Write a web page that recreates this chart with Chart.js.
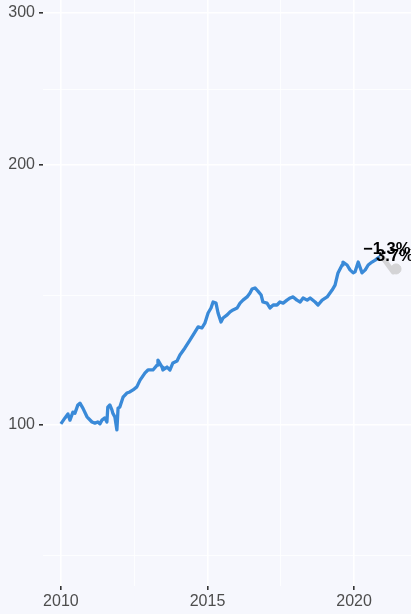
<!DOCTYPE html>
<html><head><meta charset="utf-8">
<script src="https://cdn.jsdelivr.net/npm/chart.js@4/dist/chart.umd.min.js"></script>
<style>html,body{margin:0;padding:0;background:#f6f7fd;overflow:hidden}#wrap{width:411px;height:614px;position:relative}</style>
</head><body><div id="wrap"><canvas id="c" width="411" height="614"></canvas></div>
<script>
const years=[2010.00,2010.14,2010.24,2010.31,2010.41,2010.48,2010.58,2010.65,2010.75,2010.89,2011.06,2011.16,2011.26,2011.33,2011.40,2011.50,2011.57,2011.60,2011.67,2011.74,2011.77,2011.84,2011.91,2011.95,2012.01,2012.12,2012.25,2012.35,2012.46,2012.59,2012.70,2012.87,2012.97,2013.14,2013.28,2013.31,2013.45,2013.48,2013.62,2013.72,2013.82,2013.96,2014.06,2014.23,2014.40,2014.57,2014.68,2014.81,2014.91,2015.02,2015.12,2015.19,2015.29,2015.36,2015.46,2015.53,2015.67,2015.77,2015.87,2016.01,2016.11,2016.21,2016.35,2016.45,2016.52,2016.62,2016.72,2016.83,2016.89,2017.03,2017.13,2017.24,2017.37,2017.47,2017.58,2017.71,2017.82,2017.92,2018.05,2018.16,2018.26,2018.40,2018.50,2018.67,2018.77,2018.91,2019.08,2019.25,2019.35,2019.45,2019.59,2019.62,2019.76,2019.86,2019.97,2020.03,2020.14,2020.20,2020.27,2020.38,2020.48,2020.61,2020.72,2020.82,2020.96];
const values=[100.3,101.9,103.0,101.3,103.5,103.2,105.5,106.0,104.6,102.2,100.8,100.5,100.8,100.3,101.3,101.9,100.8,104.9,105.5,104.1,103.2,102.2,98.7,104.6,104.9,107.7,108.9,109.2,109.8,110.7,112.7,114.9,115.8,115.8,117.3,118.9,116.7,115.8,116.7,115.8,118.0,118.6,120.5,122.8,125.4,128.1,129.9,129.5,131.2,134.8,136.6,138.8,138.4,134.8,131.6,133.0,134.1,135.2,135.9,136.6,138.4,139.5,140.7,142.2,143.7,144.1,142.9,141.4,138.8,138.4,136.6,137.7,137.7,138.8,138.4,139.5,140.3,140.7,139.5,138.8,140.3,139.5,140.3,138.8,137.7,139.5,140.7,143.3,145.2,150.0,153.2,154.4,153.2,151.2,150.0,150.4,154.4,152.4,150.0,151.2,153.2,154.4,155.2,156.1,157.3];
const refYears=[2020.96,2021.33];
const refValues=[156.5,150.4];
const dotYears=[2021.43];
const dotValues=[151.6];
const yMajorTicks=[100,200,300];
const yMinorTicks=[70.7,141.4,244.9];
const xMajorTicks=[2010,2015,2020];
const xMinorTicks=[2012.5,2017.5];
const labelTexts=['\u22121.3%','3.7%'];
const labelYears=[2020.31,2020.75];
const labelValues=[157.8,154.8];

const BG='#f6f7fd';
const FONT='"Liberation Sans", Arial, sans-serif';

const bgPlugin={id:'bg',beforeDraw(chart){const c=chart.ctx;c.save();c.fillStyle=BG;c.fillRect(0,0,chart.width,chart.height);c.restore();}};
const labelPlugin={id:'lbls',afterDatasetsDraw(chart){
  const c=chart.ctx,xs=chart.scales.x,ys=chart.scales.y;
  c.save();c.font='bold 16.5px '+FONT;c.fillStyle='#000';c.textAlign='left';c.textBaseline='alphabetic';
  labelTexts.forEach((t,i)=>c.fillText(t,xs.getPixelForValue(labelYears[i]),ys.getPixelForValue(labelValues[i])));
  c.restore();}};

const isMajorX=v=>xMajorTicks.includes(v);
const isMajorY=v=>yMajorTicks.includes(v);
const noPad=s=>{s.paddingTop=0;s.paddingBottom=0;s.paddingLeft=0;s.paddingRight=0;};

new Chart(document.getElementById('c'),{
  type:'line',
  data:{datasets:[
    {data:refYears.map((x,i)=>({x,y:refValues[i]})),borderColor:'#d4d4d6',borderWidth:5,pointRadius:0,tension:0,borderCapStyle:'round'},
    {data:dotYears.map((x,i)=>({x,y:dotValues[i]})),borderColor:'#d4d4d6',backgroundColor:'#d4d4d6',pointRadius:5,showLine:false},
    {data:years.map((x,i)=>({x,y:values[i]})),borderColor:'#3a8ad8',borderWidth:3.3,pointRadius:0,tension:0,borderJoinStyle:'round'}
  ]},
  options:{
    responsive:false,animation:false,devicePixelRatio:1,
    layout:{padding:0,autoPadding:false},
    plugins:{legend:{display:false},tooltip:{enabled:false}},
    scales:{
      x:{type:'linear',min:2009.39,max:2021.94,
        afterBuildTicks:a=>{a.ticks=[...xMajorTicks,...xMinorTicks].sort((p,q)=>p-q).map(v=>({value:v}));},
        afterFit:s=>{s.height=28;noPad(s);},
        border:{display:false},
        grid:{color:'#ffffff',lineWidth:c=>isMajorX(c.tick.value)?1.6:0.8,drawTicks:true,tickLength:4,
          tickColor:c=>isMajorX(c.tick.value)?'#333333':'rgba(0,0,0,0)',tickWidth:1.6},
        ticks:{autoSkip:false,maxRotation:0,padding:2,color:'#4d4d4d',font:{family:FONT,size:16},
          callback:v=>isMajorX(v)?String(v):''}
      },
      y:{type:'logarithmic',min:65.1,max:310.5,
        afterBuildTicks:a=>{a.ticks=[...yMajorTicks,...yMinorTicks].sort((p,q)=>p-q).map(v=>({value:v}));},
        afterFit:s=>{s.width=43;noPad(s);},
        border:{display:false},
        grid:{color:'#ffffff',lineWidth:c=>isMajorY(c.tick.value)?1.6:0.8,drawTicks:true,tickLength:4,
          tickColor:c=>isMajorY(c.tick.value)?'#333333':'rgba(0,0,0,0)',tickWidth:1.6},
        ticks:{autoSkip:false,padding:4,color:'#4d4d4d',font:{family:FONT,size:16},
          callback:v=>isMajorY(v)?String(v):''}
      }
    }
  },
  plugins:[bgPlugin,labelPlugin]
});
</script></body></html>
